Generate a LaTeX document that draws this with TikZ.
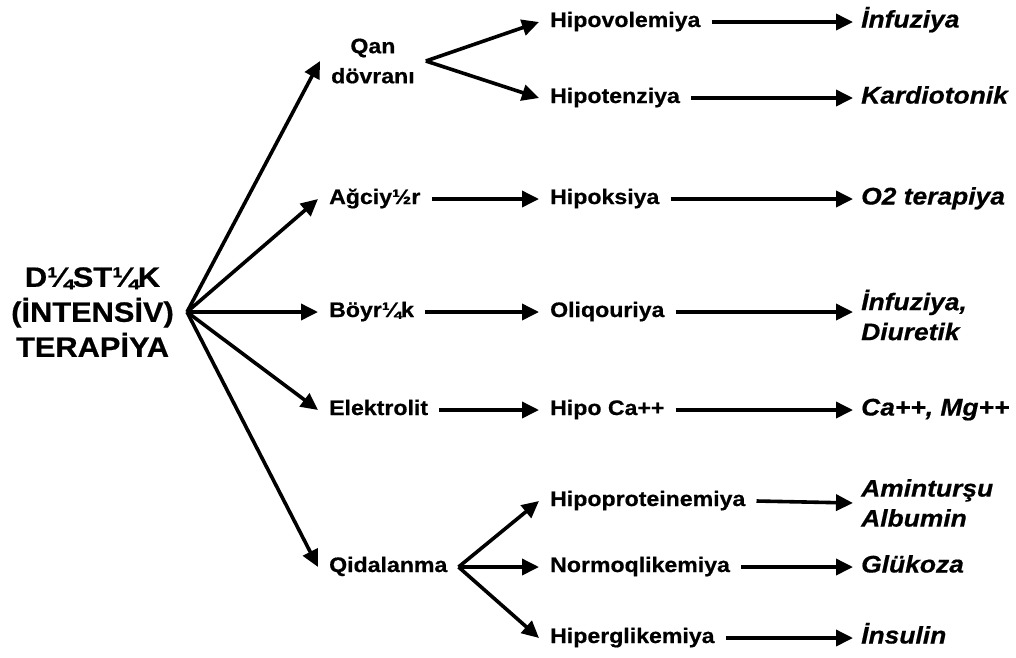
\documentclass[tikz,border=0pt]{standalone}
\usepackage{fontspec}
\setmainfont{Liberation Sans}[FakeStretch=1.1,
  BoldFeatures={FakeBold=0.6}, BoldItalicFeatures={FakeBold=0.6}]
\usetikzlibrary{arrows.meta}

\begin{document}
\begin{tikzpicture}[x=1pt, y=-1pt,
  line/.style={-{Triangle[length=17pt, width=16pt]}, line width=3.6pt, black},
  root/.style={font=\bfseries\fontsize{28}{35}\selectfont, align=center, inner xsep=13pt, anchor=east},
  organ/.style={font=\bfseries\fontsize{21}{30}\selectfont, align=center, inner xsep=11pt, anchor=west},
  sign/.style={font=\bfseries\fontsize{21}{26}\selectfont, inner xsep=11pt, anchor=west},
  cure/.style={font=\bfseries\itshape\fontsize{24}{30}\selectfont, align=left, inner xsep=8pt, anchor=west},
  oneline/.style={text height=15pt, text depth=5pt},
  onecure/.style={text height=17pt, text depth=6pt},
]
\useasboundingbox (0,0) rectangle (1016,657);

% ---------- root ----------
\node[root] (ter) at (187,312) {D¼ST¼K\\(İNTENSİV)\\TERAPİYA};

% ---------- organs ----------
\node[organ] (qan) at (320,61) {Qan\\dövranı};
\node[organ, oneline] (agc) at (318,199) {Ağciy½r};
\node[organ, oneline] (boy) at (318,312) {Böyr¼k};
\node[organ, oneline] (ele) at (318,410) {Elektrolit};
\node[organ, oneline] (qid) at (318,567) {Qidalanma};

% ---------- signs ----------
\node[sign, oneline] (hvol) at (539,22) {Hipovolemiya};
\node[sign, oneline] (hten) at (539,98) {Hipotenziya};
\node[sign, oneline] (hoks) at (539,199) {Hipoksiya};
\node[sign, oneline] (oliq) at (539,312) {Oliqouriya};
\node[sign, oneline] (hca) at (539,410) {Hipo Ca++};
\node[sign, oneline] (hpro) at (539,501) {Hipoproteinemiya};
\node[sign, oneline] (nqli) at (539,567) {Normoqlikemiya};
\node[sign, oneline] (hgli) at (539,638) {Hiperglikemiya};

% ---------- therapy ----------
\node[cure, onecure] (inf1) at (853,22) {İnfuziya};
\node[cure, onecure] (kard) at (853,98) {Kardiotonik};
\node[cure, onecure] (oter) at (853,199) {O2 terapiya};
\node[cure] (diur) at (853,315) {İnfuziya,\\Diuretik};
\node[cure, onecure] (camg) at (853,410) {Ca++, Mg++};
\node[cure] (amin) at (853,503) {Aminturşu\\Albumin};
\node[cure, onecure] (gluk) at (853,567) {Glükoza};
\node[cure, onecure] (insu) at (853,638) {İnsulin};

% arrows from root
\foreach \o in {qan,agc,boy,ele,qid}
  \draw[line] (ter.east) -- (\o.west);

% arrows organ -> sign
\draw[line] (qan.east) -- (hvol.west);
\draw[line] (qan.east) -- (hten.west);
\draw[line] (agc.east) -- (hoks.west);
\draw[line] (boy.east) -- (oliq.west);
\draw[line] (ele.east) -- (hca.west);
\draw[line] (qid.east) -- (hpro.west);
\draw[line] (qid.east) -- (nqli.west);
\draw[line] (qid.east) -- (hgli.west);

% arrows sign -> therapy
\draw[line] (hvol.east) -- (inf1.west);
\draw[line] (hten.east) -- (kard.west);
\draw[line] (hoks.east) -- (oter.west);
\draw[line] (oliq.east) -- (oliq.east -| diur.west);
\draw[line] (hca.east) -- (camg.west);
\draw[line] (hpro.east) -- (amin.west);
\draw[line] (nqli.east) -- (gluk.west);
\draw[line] (hgli.east) -- (insu.west);

\end{tikzpicture}
\end{document}
